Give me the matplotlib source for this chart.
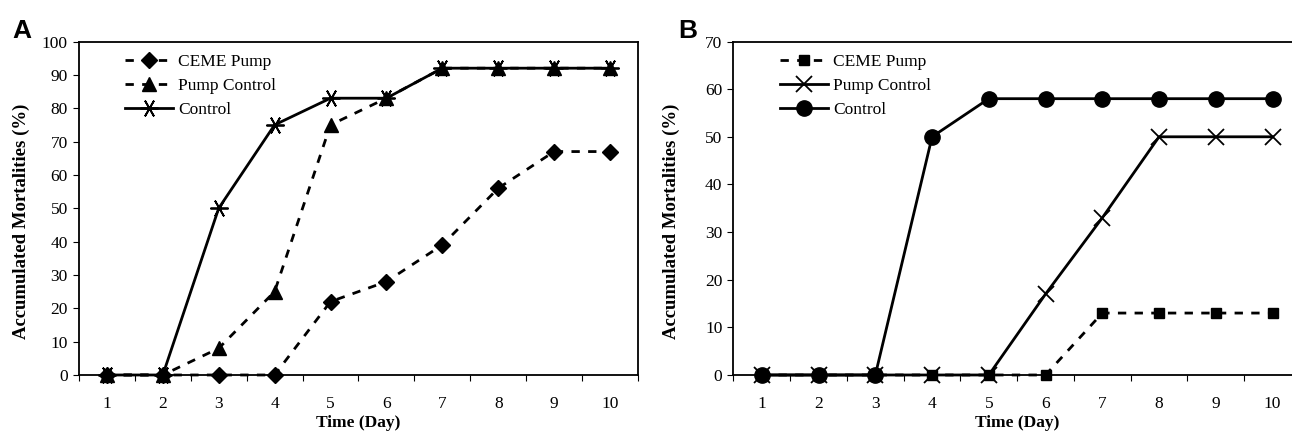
import numpy as np
import matplotlib.pyplot as plt

plt.rcParams['font.family'] = 'Liberation Serif'

days = [1, 2, 3, 4, 5, 6, 7, 8, 9, 10]

# panel A
a_ceme = [0, 0, 0, 0, 22, 28, 39, 56, 67, 67]
a_pump = [0, 0, 8, 25, 75, 83, 92, 92, 92, 92]
a_ctrl = [0, 0, 50, 75, 83, 83, 92, 92, 92, 92]

# panel B
b_ceme = [0, 0, 0, 0, 0, 0, 13, 13, 13, 13]
b_pump = [0, 0, 0, 0, 0, 17, 33, 50, 50, 50]
b_ctrl = [0, 0, 0, 50, 58, 58, 58, 58, 58, 58]

labels = ['CEME Pump', 'Pump Control', 'Control']

fig = plt.figure(figsize=(12.92, 4.37), dpi=100)
axA = fig.add_axes([0.0611, 0.1419, 0.4327, 0.7631])
axB = fig.add_axes([0.5677, 0.1419, 0.4392, 0.7631])

dash = (0, (3, 3))

axA.plot(days, a_ceme, color='k', lw=2, linestyle=dash, marker='D', ms=8, label=labels[0], clip_on=False)
axA.plot(days, a_pump, color='k', lw=2, linestyle=dash, marker='^', ms=10, label=labels[1], clip_on=False)
axA.plot(days, a_ctrl, color='k', lw=2, linestyle='-', marker=(6, 2, 90), ms=13, mew=1.3, label=labels[2], clip_on=False)

axB.plot(days, b_ceme, color='k', lw=2, linestyle=dash, marker='s', ms=7, label=labels[0], clip_on=False)
axB.plot(days, b_pump, color='k', lw=2, linestyle='-', marker='x', ms=11, mew=1.3, label=labels[1], clip_on=False)
axB.plot(days, b_ctrl, color='k', lw=2, linestyle='-', marker='o', ms=11, label=labels[2], clip_on=False)

for ax, ymax, letter, lx, ylx in [(axA, 100, 'A', -0.12, -0.088), (axB, 70, 'B', -0.098, -0.094)]:
    ax.set_xlim(0.5, 10.5)
    ax.set_ylim(0, ymax)
    ax.set_xticks(days)
    ax.set_xticks(np.arange(0.5, 11, 1), minor=True)
    ax.set_yticks(range(0, ymax + 1, 10))
    ax.tick_params(axis='x', which='major', length=0, pad=15, labelsize=12.5)
    ax.tick_params(axis='x', which='minor', length=4, direction='out', width=0.8)
    ax.tick_params(axis='y', length=4, direction='out', width=0.8, labelsize=12.5, pad=4)
    for s in ax.spines.values():
        s.set_linewidth(1.3)
    ax.set_xlabel('Time (Day)', fontsize=12.5, fontweight='bold', labelpad=2)
    ax.set_ylabel('Accumulated Mortalities (%)', fontsize=13.5, fontweight='bold')
    ax.yaxis.set_label_coords(ylx, 0.46)
    ax.legend(loc='upper left', bbox_to_anchor=(0.06, 1.0), frameon=False,
              fontsize=12.5, handlelength=2.8, handletextpad=0.3, labelspacing=0.45,
              borderaxespad=0.3)
    ax.text(lx, 1.012, letter, transform=ax.transAxes, fontsize=19,
            fontweight='bold', family='Liberation Sans', ha='left', va='baseline')

fig.savefig('out.png', dpi=100)
